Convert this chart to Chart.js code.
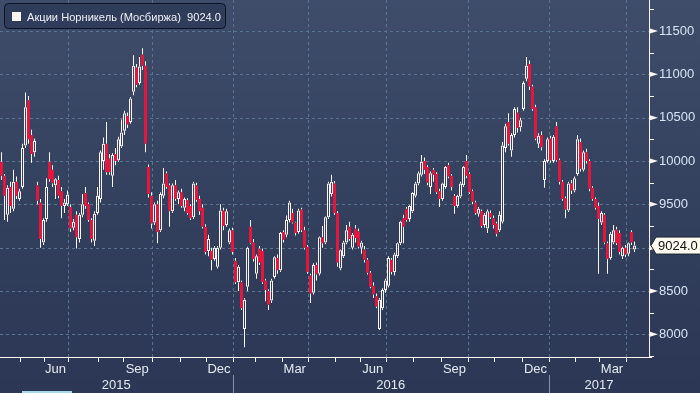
<!DOCTYPE html>
<html><head><meta charset="utf-8">
<script src="https://cdn.jsdelivr.net/npm/chart.js@4.4.0/dist/chart.umd.min.js"></script>
<style>html,body{margin:0;padding:0;background:#2c3956;overflow:hidden}#wrap{position:relative;width:700px;height:393px}canvas{display:block}</style>
</head><body><div id="wrap"><canvas id="c" width="700" height="393"></canvas></div>
<script>
const seriesName = 'Акции Норникель (Мосбиржа)';
const lastValue = 9024.0;

const openP = [
9990,9830,9380,9700,9450,9760,9560,9700,10180,10700,
10300,10100,9720,9520,9060,9330,9990,9900,9720,9780,
9650,9480,9500,9470,9230,9380,9100,9380,9630,9500,
9320,9080,9400,9560,10000,10200,10030,9830,10080,10010,
10170,10350,10520,10450,10800,11080,10900,11230,11100,9930,
9600,9290,9500,9200,9600,9860,9720,9420,9720,9560,
9640,9460,9550,9480,9350,9720,9560,9460,9240,8960,
8960,8870,8780,9000,9430,9260,9060,9200,8850,8600,
8600,8060,8550,9240,9060,8700,8990,8960,8620,8500,
8390,8660,8880,8740,9180,9150,9320,9400,9290,9180,
9440,9200,9010,8680,8480,8800,8700,9120,9060,9350,
9620,9740,9400,8760,8900,9060,9240,9000,9220,9190,
9000,8980,8860,8710,8560,8440,8060,8300,8510,8560,
8860,8720,8900,9050,9340,9450,9330,9420,9600,9740,
9840,10000,9930,9700,9900,9850,9650,9560,9700,9950,
9830,9600,9480,9590,9720,10000,9850,9650,9520,9390,
9420,9260,9220,9400,9340,9280,9200,9300,10150,10450,
10120,10300,10560,10390,10600,10950,11120,10860,10620,10200,
10300,9780,10000,10260,10000,10400,10010,9760,9570,9430,
9740,9660,9850,10220,9900,10100,10000,9690,9560,9480,
9290,9380,9050,8880,9060,9210,9170,8900,9000,8930,
9180,8980];
const highP = [
10100,9850,9720,9760,9900,9820,9680,10200,10790,10750,
10360,10260,9760,9560,9340,9800,10100,9950,9800,9830,
9700,9560,9660,9500,9330,9420,9400,9620,9700,9520,
9340,9420,9700,10120,10270,10450,10080,10090,10150,10280,
10480,10580,10560,10740,11220,11120,11200,11300,11150,9960,
9640,9520,9540,9640,9920,9880,9740,9740,9780,9660,
9680,9580,9570,9500,9760,9750,9600,9500,9270,9150,
9000,9020,9020,9500,9460,9450,9220,9230,8880,8800,
8620,8420,9010,9320,9100,8920,9020,8990,8640,8520,
8640,8900,8920,9180,9200,9370,9540,9450,9300,9450,
9460,9240,9030,8700,8820,8830,9130,9250,9360,9760,
9840,9770,9420,8980,9080,9260,9300,9170,9260,9220,
9080,9020,8880,8730,8600,8470,8420,8530,8640,8900,
8880,8940,9060,9310,9380,9470,9490,9640,9760,9880,
10070,10040,9950,9880,9920,9870,9680,9750,9940,9980,
9850,9620,9610,9760,9940,10070,9870,9670,9540,9470,
9440,9400,9440,9430,9370,9300,9420,10220,10430,10550,
10320,10620,10620,10500,10920,11200,11160,10880,10650,10320,
10340,10020,10270,10290,10300,10450,10030,9780,9590,9760,
9780,9820,10300,10260,10120,10140,10020,9710,9580,9520,
9420,9400,9070,9180,9260,9240,9200,9010,9030,9060,
9200,9070];
const lowP = [
9780,9320,9300,9400,9420,9560,9540,9680,10150,10200,
9980,10050,9500,9000,9030,9300,9760,9700,9560,9570,
9340,9400,9480,9180,9200,8990,9060,9350,9450,9300,
9060,9020,9380,9520,9900,9840,9840,9700,9950,9990,
10150,10300,10380,10430,10760,10850,10880,11050,10100,9580,
9220,9260,9050,9180,9570,9680,9240,9400,9540,9500,
9460,9420,9380,9320,9330,9530,9380,9220,8920,8900,
8740,8850,8760,8980,9200,9240,9040,8920,8580,8500,
8280,7850,8500,9040,8840,8640,8800,8580,8380,8280,
8360,8640,8700,8720,9060,9120,9290,9280,9140,9160,
9180,8980,8700,8360,8460,8620,8680,9000,9040,9330,
9590,9380,8780,8740,8880,9040,9080,8980,9060,8990,
8930,8830,8690,8530,8420,8300,8050,8280,8480,8540,
8690,8680,8880,9030,9050,9300,9300,9400,9580,9720,
9820,9850,9720,9620,9760,9620,9470,9540,9680,9800,
9660,9390,9460,9570,9700,9800,9620,9500,9380,9360,
9230,9230,9170,9330,9220,9130,9180,9280,10100,10180,
10050,10270,10330,10340,10580,10920,10820,10580,10240,10150,
10120,9690,9980,9980,9980,9990,9730,9540,9340,9410,
9620,9640,9830,9880,9880,9970,9650,9540,9440,8700,
9260,9040,8700,8860,9040,9030,8920,8870,8890,8900,
9030,8950];
const closeP = [
9830,9600,9690,9480,9760,9600,9650,10150,10620,10250,
10080,10230,9540,9100,9320,9700,9790,9740,9790,9600,
9480,9520,9610,9220,9300,9120,9380,9500,9480,9320,
9100,9390,9600,10100,10200,9870,9870,10070,10000,10250,
10330,10550,10420,10720,11100,10880,11090,11100,10200,9620,
9280,9500,9180,9620,9740,9700,9420,9720,9560,9640,
9480,9560,9400,9340,9740,9550,9420,9240,8950,9100,
8860,9000,9000,9430,9250,9420,9200,8950,8600,8780,
8300,8400,9000,9050,8870,8900,8830,8600,8510,8340,
8620,8890,8740,9170,9090,9320,9520,9290,9170,9430,
9200,9000,8720,8470,8800,8690,9120,9050,9350,9740,
9760,9400,8830,8970,9060,9200,9100,9150,9110,9010,
9060,8860,8710,8550,8460,8320,8400,8510,8620,8880,
8720,8920,9050,9300,9240,9320,9480,9630,9740,9860,
9990,9900,9750,9860,9840,9640,9560,9740,9930,9820,
9700,9480,9600,9740,9930,9830,9640,9530,9400,9450,
9250,9380,9420,9350,9260,9160,9380,10180,10400,10200,
10300,10600,10380,10470,10900,11100,10860,10600,10260,10290,
10160,10000,10250,10010,10280,10010,9760,9560,9440,9740,
9660,9800,10250,9910,10100,10000,9680,9560,9460,9330,
9400,9060,8870,9160,9200,9050,8950,9000,8920,9050,
9060,9024];

const yTicks = [8000, 8500, 9000, 9500, 10000, 10500, 11000, 11500];
const yMinorTicks = [7750, 8250, 8750, 9250, 9750, 10250, 10750, 11250, 11750];
const yRange = [7738, 11858];
const xRange = [-0.5, 215.8333];
// candle index at which each month begins (May 2015 .. Apr 2017)
const monthStarts = [6, 14, 22, 32, 40.5, 50, 59.5, 68, 77, 84.5, 93.5, 102, 111, 119.5, 128, 137, 146.5, 155.5, 164, 173.5, 182.5, 191, 199, 208];
const monthNames = ['May','Jun','Jul','Aug','Sep','Oct','Nov','Dec','Jan','Feb','Mar','Apr','May','Jun','Jul','Aug','Sep','Oct','Nov','Dec','Jan','Feb','Mar','Apr'];
const labelledMonths = ['Jun','Sep','Dec','Mar'];
const quarterMonths = ['Jan','Apr','Jul','Oct'];
const yearLabels = ['2015','2016','2017'];

const FONT = "'Liberation Sans', Arial, sans-serif";
const RED = '#e3173e';
const WHITE = '#fbf6f2';

const monthLabelPos = [], monthLabelText = [];
monthNames.forEach((m, k) => {
  if (labelledMonths.includes(m) && k + 1 < monthStarts.length) {
    monthLabelPos.push((monthStarts[k] + monthStarts[k + 1]) / 2);
    monthLabelText.push(m);
  }
});
const yearStarts = monthStarts.filter((v, k) => monthNames[k] === 'Jan');
const yearBounds = [xRange[0], ...yearStarts, xRange[1]];

const bodies = [], upperW = [], lowerW = [], bodyBg = [], bodyBorder = [];
for (let i = 0; i < closeP.length; i++) {
  const o = openP[i], c = closeP[i];
  const top = Math.max(o, c), bot = Math.min(o, c);
  bodies.push({x: i, y: [bot, top]});
  upperW.push({x: i, y: [top, highP[i]]});
  lowerW.push({x: i, y: [lowP[i], bot]});
  const up = c >= o;
  bodyBg.push(up ? 'rgba(0,0,0,0)' : RED);
  bodyBorder.push(up ? WHITE : RED);
}

function zeroPad(s) { s.paddingTop = 0; s.paddingBottom = 0; s.paddingLeft = 0; s.paddingRight = 0; }

const decor = {
  id: 'decor',
  beforeDraw(chart) {
    const {ctx, width, height} = chart;
    const g = ctx.createLinearGradient(0, 0, 0, height);
    g.addColorStop(0, '#3f4d6a');
    g.addColorStop(0.55, '#323f5d');
    g.addColorStop(1, '#2b3754');
    ctx.save();
    ctx.fillStyle = g;
    ctx.fillRect(0, 0, width, height);
    ctx.restore();
  },
  beforeDatasetsDraw(chart) {
    const {ctx, chartArea: a, scales: {x, y}} = chart;
    ctx.save();
    ctx.strokeStyle = '#587490';
    ctx.lineWidth = 1;
    ctx.setLineDash([3, 3]);
    yTicks.forEach(v => {
      const py = Math.round(y.getPixelForValue(v)) + 0.5;
      ctx.beginPath(); ctx.moveTo(a.left, py); ctx.lineTo(a.right, py); ctx.stroke();
    });
    monthStarts.forEach((v, k) => {
      if (!quarterMonths.includes(monthNames[k])) return;
      const px = Math.round(x.getPixelForValue(v)) + 0.5;
      ctx.beginPath(); ctx.moveTo(px, a.top); ctx.lineTo(px, a.bottom); ctx.stroke();
    });
    ctx.restore();
  },
  afterDraw(chart) {
    const {ctx, chartArea: a, scales: {x, y}, width, height} = chart;
    ctx.save();
    ctx.strokeStyle = WHITE; ctx.lineWidth = 1;
    ctx.beginPath();
    ctx.moveTo(a.left, a.bottom + 0.5); ctx.lineTo(a.right + 3, a.bottom + 0.5);
    ctx.moveTo(a.right + 0.5, a.top); ctx.lineTo(a.right + 0.5, a.bottom + 1);
    ctx.stroke();
    ctx.beginPath();
    monthStarts.forEach(v => {
      const px = Math.round(x.getPixelForValue(v)) + 0.5;
      ctx.moveTo(px, a.bottom + 1); ctx.lineTo(px, a.bottom + 5);
    });
    yMinorTicks.forEach(v => {
      const py = Math.round(y.getPixelForValue(v)) + 0.5;
      ctx.moveTo(a.right, py); ctx.lineTo(a.right + 5, py);
    });
    ctx.stroke();
    ctx.fillStyle = WHITE;
    yTicks.forEach(v => {
      const py = y.getPixelForValue(v);
      ctx.beginPath();
      ctx.moveTo(a.right + 1, py - 2.5); ctx.lineTo(a.right + 9, py); ctx.lineTo(a.right + 1, py + 2.5);
      ctx.closePath(); ctx.fill();
    });
    // month labels (x axis)
    ctx.fillStyle = '#e4eaf2';
    ctx.font = '13px ' + FONT;
    ctx.textAlign = 'center'; ctx.textBaseline = 'alphabetic';
    monthLabelPos.forEach((v, k) => {
      ctx.fillText(monthLabelText[k], x.getPixelForValue(v), 373);
    });
    // year labels
    yearLabels.forEach((t, k) => {
      const px = (x.getPixelForValue(yearBounds[k]) + x.getPixelForValue(yearBounds[k + 1])) / 2;
      ctx.fillText(t, px, 389);
    });
    ctx.strokeStyle = '#8893a6';
    ctx.beginPath();
    yearStarts.forEach(v => {
      const px = Math.round(x.getPixelForValue(v)) + 0.5;
      ctx.moveTo(px, 375); ctx.lineTo(px, height);
    });
    ctx.stroke();
    ctx.fillStyle = '#a6dbe6';
    ctx.fillRect(22, 391, 50, 2);
    const lx = 4.5, ly = 3.5, lw = 221, lh = 25, r = 4;
    ctx.beginPath();
    ctx.moveTo(lx + r, ly); ctx.lineTo(lx + lw - r, ly); ctx.quadraticCurveTo(lx + lw, ly, lx + lw, ly + r);
    ctx.lineTo(lx + lw, ly + lh - r); ctx.quadraticCurveTo(lx + lw, ly + lh, lx + lw - r, ly + lh);
    ctx.lineTo(lx + r, ly + lh); ctx.quadraticCurveTo(lx, ly + lh, lx, ly + lh - r);
    ctx.lineTo(lx, ly + r); ctx.quadraticCurveTo(lx, ly, lx + r, ly);
    ctx.closePath();
    ctx.fillStyle = '#2f3c5a'; ctx.fill();
    ctx.strokeStyle = '#0c1424'; ctx.stroke();
    ctx.fillStyle = '#fff6f2';
    ctx.fillRect(12, 12, 9, 9);
    const legendText = seriesName + '  ' + lastValue.toFixed(1);
    ctx.font = '12px ' + FONT;
    const w12 = ctx.measureText(legendText).width;
    const fs = Math.max(11, Math.min(13, 12 * 194 / w12));
    ctx.font = fs.toFixed(2) + 'px ' + FONT;
    ctx.fillStyle = '#eef0f4';
    ctx.textAlign = 'left'; ctx.textBaseline = 'alphabetic';
    ctx.fillText(legendText, 27, 21);
    const ty = y.getPixelForValue(lastValue);
    ctx.beginPath();
    ctx.moveTo(a.right + 2, ty);
    ctx.lineTo(a.right + 7, ty - 8.5);
    ctx.lineTo(width + 1, ty - 8.5);
    ctx.lineTo(width + 1, ty + 8.5);
    ctx.lineTo(a.right + 7, ty + 8.5);
    ctx.closePath();
    ctx.fillStyle = '#fffbef'; ctx.fill();
    ctx.strokeStyle = '#1b2333'; ctx.stroke();
    ctx.fillStyle = '#111111';
    ctx.font = '13px ' + FONT;
    ctx.textBaseline = 'middle';
    ctx.fillText(lastValue.toFixed(1), a.right + 9, ty + 0.5);
    ctx.restore();
  }
};

new Chart(document.getElementById('c'), {
  type: 'bar',
  data: {
    datasets: [
      {label: 'body', data: bodies, backgroundColor: bodyBg, borderColor: bodyBorder, borderWidth: 1,
       borderSkipped: false, barThickness: 3, maxBarThickness: 3, inflateAmount: 0, grouped: false},
      {label: 'upper wick', data: upperW, backgroundColor: WHITE, borderWidth: 0,
       barThickness: 1, maxBarThickness: 1, inflateAmount: 0, grouped: false},
      {label: 'lower wick', data: lowerW, backgroundColor: WHITE, borderWidth: 0,
       barThickness: 1, maxBarThickness: 1, inflateAmount: 0, grouped: false}
    ]
  },
  options: {
    responsive: false,
    animation: false,
    devicePixelRatio: 1,
    layout: {padding: 0},
    plugins: {legend: {display: false}, tooltip: {enabled: false}},
    scales: {
      x: {
        type: 'linear', min: xRange[0], max: xRange[1], offset: false,
        grid: {display: false, drawTicks: false}, border: {display: false},
        afterBuildTicks: s => { s.ticks = monthLabelPos.map(v => ({value: v})); },
        afterFit: s => { s.height = 36; zeroPad(s); },
        ticks: {display: false, autoSkip: false, maxRotation: 0}
      },
      y: {
        type: 'linear', position: 'right', min: yRange[0], max: yRange[1],
        grid: {display: false, drawTicks: false}, border: {display: false},
        afterBuildTicks: s => { s.ticks = yTicks.map(v => ({value: v})); },
        afterFit: s => { s.width = 51; zeroPad(s); },
        ticks: {autoSkip: false, padding: 10, color: '#d8e3f3',
          font: {family: FONT, size: 13},
          callback: v => String(v)}
      }
    }
  },
  plugins: [decor]
});
</script>
</body></html>
